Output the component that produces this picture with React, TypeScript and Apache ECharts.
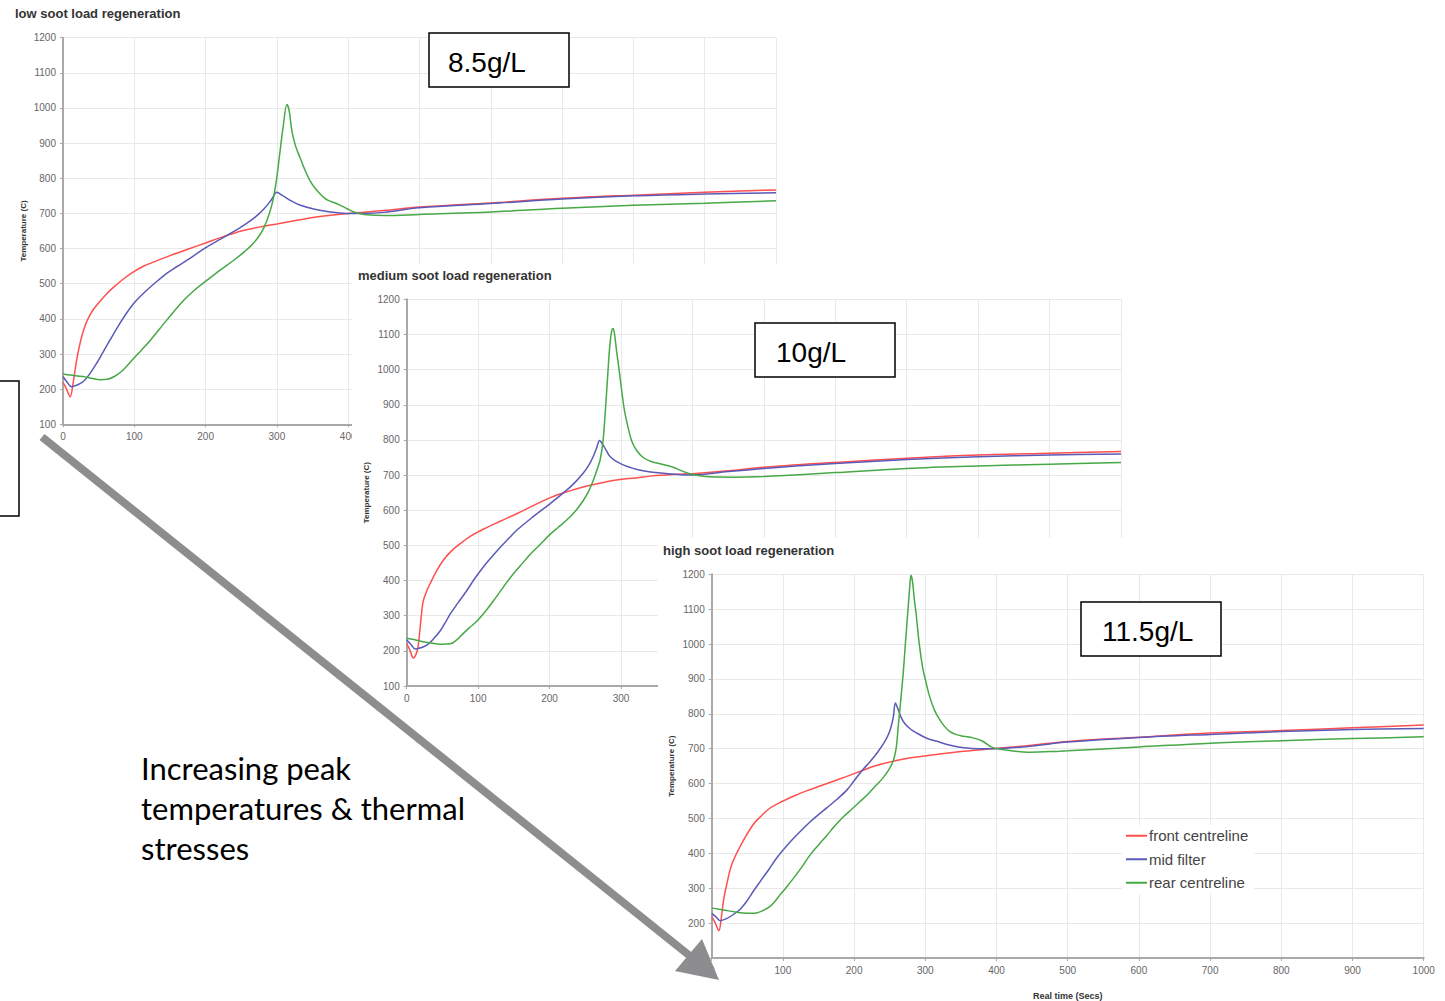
import React, { useEffect, useRef } from "react";
import * as echarts from "echarts";

// ---------- data ----------
const chartTitles = ["low soot load regeneration", "medium soot load regeneration", "high soot load regeneration"];
const loadLabels = ["8.5g/L", "10g/L", "11.5g/L"];
const seriesNames = ["front centreline", "mid filter", "rear centreline"];
const yAxisName = "Temperature (C)";
const xAxisName = "Real time (Secs)";
const annotationLines = ["Increasing peak", "temperatures & thermal", "stresses"];

// low soot load (8.5 g/L)
const lowFront = [[0,219],[5,200],[10,178],[14,215],[19,281],[25,340],[30,375],[35,400],[43,428],[52,450],[63,475],[75,497],[87,517],[100,535],[112,549],[125,560],[150,580],[175,598],[200,616],[225,634],[250,650],[275,661],[300,670],[330,681],[360,691],[400,700],[450,708],[500,718],[600,730],[700,743],[800,752],[900,760],[1000,767]];
const lowMid = [[0,236],[5,222],[12,207],[20,212],[28,221],[38,245],[47,273],[56,305],[66,340],[77,378],[89,416],[100,446],[113,473],[129,502],[145,529],[160,549],[174,567],[188,586],[202,605],[220,626],[239,648],[255,668],[270,690],[282,713],[292,738],[300,760],[307,752],[318,738],[332,724],[353,712],[375,704],[398,700],[421,700],[450,703],[500,716],[600,728],[700,741],[800,750],[900,755],[1000,759]];
const lowRear = [[0,243],[10,240],[28,236],[40,231],[52,227],[62,228],[72,236],[84,254],[98,285],[110,311],[122,338],[145,395],[169,452],[185,483],[202,510],[220,538],[239,566],[255,592],[267,615],[278,645],[286,680],[293,725],[299,790],[304,870],[309,950],[314,1010],[317,995],[321,935],[326,893],[332,861],[339,825],[346,795],[353,773],[360,757],[366,745],[372,737],[380,731],[389,723],[398,714],[407,705],[416,700],[426,696],[450,694],[500,697],[600,704],[700,715],[800,723],[900,729],[1000,736]];

// medium soot load (10 g/L)
const medFront = [[0,221],[5,200],[9,180],[13,190],[16,213],[20,290],[23,340],[28,370],[33,392],[42,428],[51,457],[62,483],[75,505],[90,527],[107,546],[130,568],[154,590],[178,614],[201,636],[225,653],[247,666],[270,677],[294,686],[320,692],[341,697],[387,703],[400,704],[450,712],[500,722],[600,736],[700,748],[800,757],[900,762],[1000,767]];
const medMid = [[0,231],[6,218],[12,205],[20,209],[28,216],[37,233],[47,257],[54,280],[61,305],[72,337],[84,371],[95,405],[107,438],[119,467],[131,495],[143,520],[154,543],[178,583],[201,619],[224,657],[236,680],[247,705],[255,728],[261,752],[266,778],[270,798],[275,785],[280,768],[285,752],[294,738],[303,729],[317,719],[331,712],[348,707],[366,704],[401,700],[450,710],[500,719],[600,733],[700,744],[800,752],[900,757],[1000,760]];
const medRear = [[0,236],[10,232],[23,226],[35,222],[47,219],[61,220],[70,231],[79,249],[88,266],[98,284],[110,312],[121,341],[133,375],[145,408],[159,442],[173,475],[187,503],[201,532],[212,551],[224,572],[236,597],[247,627],[255,655],[261,684],[266,712],[271,745],[275,800],[278,880],[281,970],[284,1060],[287,1110],[289,1117],[291,1100],[294,1050],[297,1005],[301,940],[305,882],[310,835],[315,797],[322,770],[331,750],[343,738],[357,731],[372,723],[385,712],[398,703],[424,695],[460,694],[500,696],[600,707],[700,719],[800,726],[900,731],[1000,736]];

// high soot load (11.5 g/L)
const highFront = [[0,219],[5,200],[10,178],[14,224],[17,270],[21,310],[28,367],[40,420],[58,482],[70,508],[82,530],[98,548],[114,563],[133,579],[152,593],[170,606],[189,620],[211,637],[230,651],[261,667],[280,674],[300,679],[320,685],[354,693],[400,701],[450,710],[500,721],[600,733],[700,745],[800,752],[900,760],[1000,768]];
const highMid = [[0,228],[6,218],[12,207],[20,212],[30,224],[40,240],[49,262],[58,290],[68,319],[80,353],[91,386],[103,416],[115,443],[127,468],[138,490],[150,511],[162,531],[176,555],[190,582],[200,608],[211,637],[222,662],[233,690],[243,720],[250,750],[255,790],[258,831],[262,812],[266,790],[272,770],[280,755],[288,745],[302,730],[315,722],[335,710],[354,703],[375,700],[400,700],[450,708],[500,719],[600,732],[700,741],[800,749],[900,755],[1000,758]];
const highRear = [[0,243],[10,240],[21,236],[33,232],[44,229],[55,228],[63,229],[72,236],[82,248],[89,263],[96,281],[105,303],[115,329],[127,362],[138,395],[150,424],[162,452],[173,479],[185,505],[197,527],[208,548],[220,571],[231,595],[240,615],[248,637],[255,665],[259,700],[262,764],[266,850],[269,917],[272,1000],[276,1107],[278,1160],[280,1197],[282,1180],[285,1120],[287,1089],[291,1010],[296,936],[301,890],[306,850],[313,810],[320,784],[327,764],[334,750],[343,741],[353,736],[367,731],[380,722],[395,703],[418,695],[447,690],[489,693],[500,694],[600,705],[700,716],[800,723],[900,729],[1000,734]];

const chartData = [
  [lowFront, lowMid, lowRear],
  [medFront, medMid, medRear],
  [highFront, highMid, highRear],
];

// ---------- layout / style ----------
const W = 1445;
const H = 1001;
const colors = ["#ff4f4f", "#5a5ab8", "#46a846"];
const grids = [
  { left: 63, top: 37.7, width: 713, height: 386.6 },
  { left: 406.7, top: 299.3, width: 714.3, height: 386.7 },
  { left: 711.7, top: 574.3, width: 712, height: 385.7 },
];
const titlePos = [
  { left: 15, top: 7 },
  { left: 358, top: 269 },
  { left: 663, top: 544 },
];
const panels = [
  null,
  { x: 352, y: 264, width: 774, height: 450 },
  { x: 658, y: 538, width: 787, height: 463 },
];
const boxes = [
  { x: 429, y: 33, width: 140, height: 54, tx: 448 },
  { x: 755, y: 323, width: 140, height: 54, tx: 776 },
  { x: 1081, y: 602, width: 140, height: 54, tx: 1102 },
];
const FONT = '"Liberation Sans", Arial, sans-serif';

export default function App() {
  const ref = useRef<HTMLDivElement>(null);
  useEffect(() => {
    if (!ref.current) return;
    const chart = echarts.init(ref.current, undefined, { renderer: "svg" });
    const axisLineColor = "#a9a9a9";
    const plain = (v: number) => String(v);

    const xAxes = grids.map((_, i) => ({
      type: "value",
      gridIndex: i,
      min: 0,
      max: 1000,
      interval: 100,
      z: 10 * i + 1,
      name: i === 2 ? xAxisName : "",
      nameLocation: "middle",
      nameGap: 33,
      nameTextStyle: { fontSize: 9, fontWeight: "bold", color: "#333", fontFamily: FONT },
      axisLine: { show: true, lineStyle: { color: axisLineColor, width: 2 } },
      axisTick: { show: true, length: 3, lineStyle: { color: axisLineColor } },
      axisLabel: { fontSize: 10, color: "#666", margin: 7, fontFamily: FONT, formatter: plain },
      splitLine: { show: true, lineStyle: { color: "#e9e9e9", width: 1 } },
    }));
    const yAxes = grids.map((_, i) => ({
      type: "value",
      gridIndex: i,
      min: 100,
      max: 1200,
      interval: 100,
      z: 10 * i + 1,
      name: yAxisName,
      nameLocation: "middle",
      nameGap: 36,
      nameTextStyle: { fontSize: 8, fontWeight: "bold", color: "#333", fontFamily: FONT },
      axisLine: { show: true, lineStyle: { color: axisLineColor, width: 2 } },
      axisTick: { show: true, length: 3, lineStyle: { color: axisLineColor } },
      axisLabel: { fontSize: 10, color: "#666", margin: 7, fontFamily: FONT, formatter: plain },
      splitLine: { show: true, lineStyle: { color: "#e9e9e9", width: 1 } },
    }));

    const series: any[] = [];
    chartData.forEach((group, i) => {
      group.forEach((data, j) => {
        series.push({
          type: "line",
          name: seriesNames[j],
          xAxisIndex: i,
          yAxisIndex: i,
          data,
          symbol: "none",
          showSymbol: false,
          smooth: 0.35,
          z: 10 * i + 2,
          lineStyle: { color: colors[j], width: 1.5 },
          itemStyle: { color: colors[j] },
        });
      });
    });

    const graphics: any[] = [];
    panels.forEach((p, i) => {
      if (!p) return;
      graphics.push({
        type: "rect",
        z: 10 * i,
        silent: true,
        shape: { x: p.x, y: p.y, width: p.width, height: p.height },
        style: { fill: "#ffffff" },
      });
    });
    boxes.forEach((b, i) => {
      graphics.push({
        type: "rect",
        z: 10 * i + 5,
        shape: { x: b.x, y: b.y, width: b.width, height: b.height },
        style: { fill: "#ffffff", stroke: "#000", lineWidth: 1.5 },
      });
      graphics.push({
        type: "text",
        z: 10 * i + 6,
        x: b.tx,
        y: b.y + b.height / 2 + 2,
        style: {
          text: loadLabels[i],
          font: `28px ${FONT}`,
          fill: "#000",
          align: "left",
          verticalAlign: "middle",
        },
      });
    });
    // partial box at left edge
    graphics.push({
      type: "rect",
      z: 30,
      shape: { x: -30, y: 381, width: 49, height: 135 },
      style: { fill: "#ffffff", stroke: "#000", lineWidth: 1.5 },
    });
    // arrow
    graphics.push({
      type: "line",
      z: 40,
      shape: { x1: 42, y1: 437, x2: 690, y2: 956 },
      style: { stroke: "#8d8d90", lineWidth: 8 },
    });
    graphics.push({
      type: "polygon",
      z: 40,
      shape: { points: [[719, 980], [675, 971], [702, 939]] },
      style: { fill: "#8d8d90" },
    });
    annotationLines.forEach((line, k) => {
      graphics.push({
        type: "text",
        z: 40,
        x: 141,
        y: 768 + 40 * k,
        style: {
          text: line,
          font: '31px Lato, "Open Sans", sans-serif',
          fill: "#000",
          align: "left",
          verticalAlign: "middle",
        },
      });
    });

    chart.setOption({
      animation: false,
      backgroundColor: "#ffffff",
      title: chartTitles.map((t, i) => ({
        text: t,
        left: titlePos[i].left,
        top: titlePos[i].top,
        padding: 0,
        z: 10 * i + 3,
        textStyle: { fontSize: 13, fontWeight: "bold", color: "#333", fontFamily: FONT },
      })),
      grid: grids.map((g) => ({ ...g, containLabel: false, show: false })),
      xAxis: xAxes,
      yAxis: yAxes,
      legend: {
        data: seriesNames,
        orient: "vertical",
        left: 1122,
        top: 825,
        z: 25,
        backgroundColor: "#ffffff",
        padding: [3, 6, 3, 4],
        icon: "rect",
        itemWidth: 21,
        itemHeight: 2,
        itemGap: 8,
        textStyle: { fontSize: 15, color: "#444", fontFamily: FONT, lineHeight: 15.5, padding: [0, 0, 0, -3] },
      },
      series,
      graphic: graphics,
    });
    return () => chart.dispose();
  }, []);
  return <div ref={ref} style={{ position: "absolute", left: 0, top: 0, width: W, height: H }} />;
}
